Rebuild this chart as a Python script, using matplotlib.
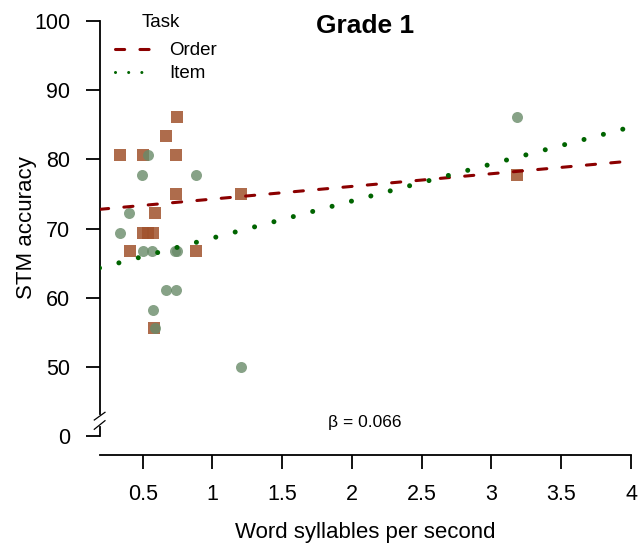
import matplotlib
matplotlib.use("Agg")
import matplotlib.pyplot as plt
from matplotlib.lines import Line2D
from matplotlib import transforms
import numpy as np

plt.rcParams['font.family'] = ['Liberation Sans', 'DejaVu Sans']

# Grade 1 : debit de parole (syllabes/s) vs. precision en memoire a court terme (%)
order_rate = [0.336, 0.50, 0.744, 0.665, 0.735, 0.735, 1.206, 0.587,
              0.50, 0.54, 0.57, 0.408, 0.885, 0.58, 3.18]
order_acc = [80.6, 80.6, 86.1, 83.3, 80.6, 75.0, 75.0, 72.2,
             69.4, 69.4, 69.4, 66.7, 66.7, 55.6, 77.8]
item_rate = [0.537, 0.496, 0.885, 0.405, 0.336, 0.50, 0.568, 0.728,
             0.742, 0.665, 0.735, 0.577, 0.587, 1.206, 3.18]
item_acc = [80.6, 77.8, 77.8, 72.2, 69.4, 66.7, 66.7, 66.7,
            66.7, 61.1, 61.1, 58.3, 55.6, 50.0, 86.1]

# droites ajustees (ordonnee a l'origine, pente)
order_fit = (72.43, 1.83)
item_fit = (63.30, 5.34)
beta = 0.066

xticks = [0.5, 1, 1.5, 2, 2.5, 3, 3.5, 4]
xticklabels = ['0.5', '1', '1.5', '2', '2.5', '3', '3.5', '4']
yticks = [40, 50, 60, 70, 80, 90, 100]
yticklabels = ['0', '50', '60', '70', '80', '90', '100']

W, H = 641, 547
fig = plt.figure(figsize=(W / 100, H / 100), dpi=100)
ax = fig.add_axes([99.5 / W, (H - 455) / H, (631 - 99.5) / W, (455 - 20.7) / H])
ax.set_xlim(0.19, 4.0)
ax.set_ylim(37.33, 100)

red = '#8B0000'
green = '#006400'

# points
ax.scatter(order_rate, order_acc, marker='s', s=11.5 ** 2 * 0.52, color='#A0522D',
           alpha=0.85, linewidths=0, zorder=2)
ax.scatter(item_rate, item_acc, marker='o', s=11 ** 2 * 0.52, color='#698B69',
           alpha=0.8, linewidths=0, zorder=3)

# droites
xf = np.array(ax.get_xlim())
ax.plot(xf, order_fit[0] + order_fit[1] * xf, color=red, lw=2.2,
        linestyle=(0, (3, 5)), dash_capstyle='round', zorder=4)
ax.plot(xf, item_fit[0] + item_fit[1] * xf, color=green, lw=3.6,
        linestyle=(0, (0.01, 4)), dash_capstyle='round', zorder=4)

# axes
for s in ['top', 'right']:
    ax.spines[s].set_visible(False)
lw_ax = 1.3
ax.spines['left'].set_linewidth(lw_ax)
ax.spines['bottom'].set_linewidth(lw_ax)
ax.spines['left'].set_bounds(43.2, 100)
ax.set_xticks(xticks)
ax.set_xticklabels(xticklabels)
ax.set_yticks(yticks)
ax.set_yticklabels(yticklabels)
ax.tick_params(direction='out', length=10, width=lw_ax, labelsize=15.5, pad=11)

# coupure de l'axe y
tr = transforms.blended_transform_factory(ax.transAxes, ax.transData)
ax.plot([0, 0], [40, 41.4], color='black', lw=lw_ax, transform=tr, clip_on=False)
ax.plot([-0.0098, 0.0103], [42.38, 43.49], color='black', lw=0.9, transform=tr, clip_on=False)
ax.plot([-0.0098, 0.0103], [41.04, 42.28], color='black', lw=0.9, transform=tr, clip_on=False)

# legende
h1 = Line2D([], [], color=red, lw=2.2, linestyle=(0, (3, 5)), dash_capstyle='round')
h2 = Line2D([], [], color=green, lw=2.2, linestyle=(0, (0.01, 4.3)), dash_capstyle='round')
ax.legend([h1, h2], ['Order', 'Item'], loc='upper left',
          bbox_to_anchor=(115 / W, (H - 42) / H), bbox_transform=fig.transFigure,
          frameon=False, fontsize=13.5, handlelength=2.0,
          handletextpad=0.9, labelspacing=0.31, borderpad=0, borderaxespad=0)
fig.text(161 / W, (H - 27) / H, 'Task', ha='center', va='baseline', fontsize=13.5)

# textes
fig.text(365 / W, (H - 33) / H, 'Grade 1', ha='center', va='baseline',
         fontsize=19, fontweight='bold')
fig.text(365 / W, (H - 427) / H, f'\u03b2 = {beta}', ha='center', va='baseline', fontsize=12.5)
fig.text(365 / W, 9 / H, 'Word syllables per second', ha='center', va='baseline', fontsize=16)
fig.text(26.5 / W, (H - 228) / H, 'STM accuracy', rotation=90, ha='center', va='center',
         fontsize=16)

fig.savefig('out.png', dpi=100)
